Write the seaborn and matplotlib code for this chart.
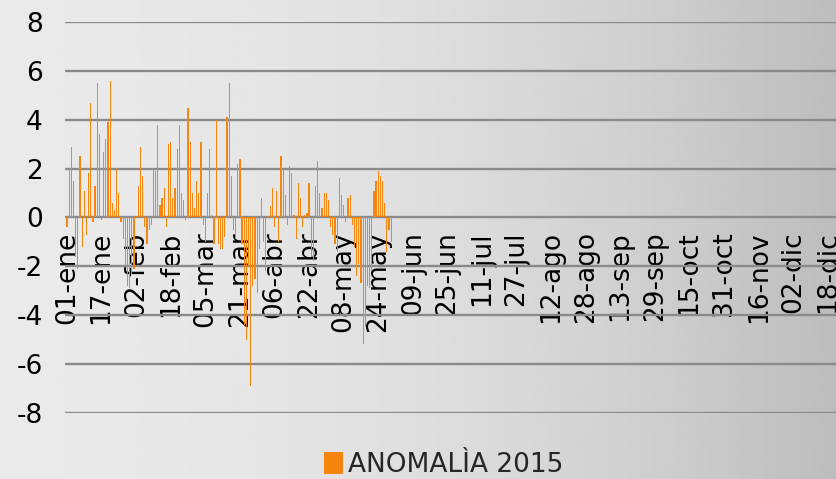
import matplotlib
matplotlib.use("Agg")
import matplotlib.pyplot as plt
import seaborn as sns
import numpy as np
import pandas as pd
from matplotlib.patches import Patch

# --- datos: anomalía diaria 2015 (01-ene .. 31-may) ---
anomalia = [
    -0.4, 2.0, 2.9, 1.5, -1.6, -2.1, 2.5, -1.2, 1.1, -0.7,
    1.8, 4.7, -0.2, 1.3, 5.5, 3.4, -0.1, 2.7, 3.2, 3.9,
    5.6, 0.6, 0.3, 2.0, 1.0, -0.2, -0.9, -2.0, -2.8, -2.9,
    -2.3, -2.1, 0.05, 1.3, 2.9, 1.7, -0.4, -1.1, -0.5, -0.3,
    2.0, 1.9, 3.8, 0.5, 0.8, 1.2, -0.4, 3.0, 3.1, 0.8,
    1.2, 2.8, 3.8, 1.0, 0.7, -0.1, 4.5, 3.1, 1.0, 0.4,
    1.5, 1.0, 3.1, -0.3, -1.0, 1.0, 2.8, 0.1, -1.1, 4.0,
    -1.1, -1.3, -1.3, -0.8, 4.1, 5.5, 1.7, -0.5, -0.9, 2.2,
    2.4, -1.1, -4.4, -5.0, -2.0, -6.9, -2.8, -2.5, -3.1, -1.3,
    0.8, -1.0, -2.2, 0.05, 0.45, 1.2, -0.4, 1.1, -1.0, 2.5,
    2.0, 0.9, -0.3, 2.1, 1.8, 0.1, -0.9, 1.4, 0.8, -0.4,
    0.1, 0.2, 1.4, -1.6, -1.8, 1.3, 2.3, 1.0, 0.4, 1.0,
    1.0, 0.7, -0.4, -0.7, -1.1, -1.4, 1.6, 0.9, 0.5, -0.2,
    0.8, 0.9, -0.3, -1.2, -2.4, -1.9, -2.7, -5.2, -4.5, -2.8,
    -2.9, -2.2, 1.1, 1.5, 1.9, 1.7, 1.5, 0.6, -1.4, -0.5,
    -1.0,
]
dias = list(range(len(anomalia)))

tick_dias = list(range(0, 353, 16))
tick_labels = [
    "01-ene", "17-ene", "02-feb", "18-feb", "05-mar", "21-mar", "06-abr",
    "22-abr", "08-may", "24-may", "09-jun", "25-jun", "11-jul", "27-jul",
    "12-ago", "28-ago", "13-sep", "29-sep", "15-oct", "31-oct", "16-nov",
    "02-dic", "18-dic",
]
y_ticks = [-8, -6, -4, -2, 0, 2, 4, 6, 8]
serie = "ANOMALÌA 2015"

df = pd.DataFrame({"dia": dias, "anomalia": anomalia})

sns.set_theme(style="white")
plt.rcParams["font.family"] = ["DejaVu Sans"]
plt.rcParams["axes.unicode_minus"] = False

fig = plt.figure(figsize=(8.37, 4.79), dpi=100)

# fondo degradado gris
bg = fig.add_axes([0, 0, 1, 1], zorder=-10)
t = np.linspace(0, 1, 400)
grad = 0.915 - 0.175 * t ** 2
bg.imshow(np.tile(grad, (10, 1)), aspect="auto", cmap="gray", vmin=0, vmax=1,
          extent=[0, 1, 0, 1])
bg.axis("off")

ax = fig.add_axes([0.0777, 0.138, 0.946, 0.816])
ax.set_facecolor("none")
# eje x en y=0 (antes de fijar ticks, porque set_position los reinicia)
for s in ax.spines.values():
    s.set_visible(False)
ax.spines["bottom"].set_position(("data", 0))

sns.barplot(data=df, x="dia", y="anomalia", native_scale=True, color="#F5850F",
            width=0.55, saturation=1, edgecolor="none", ax=ax, zorder=3)

ax.set_xlim(-0.9, 365.4)
ax.set_ylim(-8, 8)
ax.set_yticks(y_ticks)
ax.set_yticklabels([str(v) for v in y_ticks])
ax.set_xticks(tick_dias)
ax.set_xticklabels(tick_labels)
ax.set_xlabel("")
ax.set_ylabel("")

ax.yaxis.grid(True, color="#8a8a8a", linewidth=1.7)
ax.set_axisbelow(True)

ax.tick_params(axis="y", length=0, pad=16, labelsize=19, colors="black")
ax.tick_params(axis="x", length=0, pad=10, labelsize=19, colors="black",
               labelrotation=90)

# leyenda
fig.legend(handles=[Patch(facecolor="#F5850F", edgecolor="none", label=serie)],
           loc="lower center", bbox_to_anchor=(0.53, -0.047), frameon=False,
           fontsize=19, handlelength=0.7, handleheight=0.9, handletextpad=0.2)

fig.savefig("out.png", dpi=100)
